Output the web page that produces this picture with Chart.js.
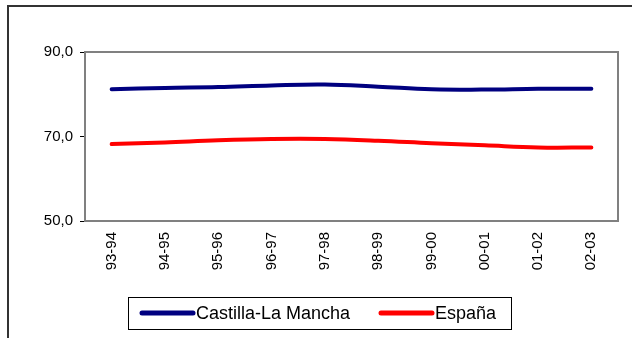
<!DOCTYPE html>
<html>
<head>
<meta charset="utf-8">
<script src="https://cdn.jsdelivr.net/npm/chart.js@4/dist/chart.umd.min.js"></script>
<style>
  html, body { margin: 0; padding: 0; background: #fff; }
  canvas { display: block; }
</style>
</head>
<body>
<canvas id="c" width="632" height="338"></canvas>
<script>
const cursos = ["93-94", "94-95", "95-96", "96-97", "97-98", "98-99", "99-00", "00-01", "01-02", "02-03"];
const castillaLaMancha = [81.2, 81.5, 81.7, 82.1, 82.3, 81.8, 81.2, 81.1, 81.3, 81.3];
const espana = [68.2, 68.6, 69.1, 69.4, 69.4, 69.0, 68.4, 67.9, 67.4, 67.4];
const yTicks = [50, 70, 90];

const FONT = '"Liberation Sans", Arial, sans-serif';

// marco exterior, borde gris del área de trazado y leyenda con recuadro
const extras = {
  id: "extras",
  beforeDatasetsDraw(chart) {
    const { ctx, chartArea: a } = chart;
    ctx.save();
    ctx.strokeStyle = "#808080";
    ctx.lineWidth = 2;
    ctx.strokeRect(a.left, a.top, a.right - a.left, a.bottom - a.top);
    ctx.restore();
  },
  afterDraw(chart) {
    const ctx = chart.ctx;
    ctx.save();
    ctx.strokeStyle = "#333";
    ctx.lineWidth = 2;
    ctx.beginPath();
    ctx.moveTo(8, 338);
    ctx.lineTo(8, 6);
    ctx.lineTo(632, 6);
    ctx.stroke();

    // leyenda
    ctx.strokeStyle = "#000";
    ctx.lineWidth = 1;
    ctx.strokeRect(128.5, 297.5, 383, 32);
    ctx.font = "18px " + FONT;
    ctx.textBaseline = "middle";
    ctx.fillStyle = "#000";
    const items = [[142, 196], [381, 435]];
    chart.data.datasets.forEach((ds, i) => {
      const [lx, tx] = items[i];
      ctx.strokeStyle = ds.borderColor;
      ctx.lineWidth = 5;
      ctx.lineCap = "round";
      ctx.beginPath();
      ctx.moveTo(lx, 313);
      ctx.lineTo(lx + 51, 313);
      ctx.stroke();
      ctx.fillText(ds.label, tx, 314);
    });
    ctx.restore();
  }
};

new Chart(document.getElementById("c"), {
  type: "line",
  data: {
    labels: cursos,
    datasets: [
      {
        label: "Castilla-La Mancha",
        data: castillaLaMancha,
        borderColor: "#000080",
        borderWidth: 4,
        tension: 0.4,
        pointRadius: 0,
        borderCapStyle: "round",
        fill: false
      },
      {
        label: "España",
        data: espana,
        borderColor: "#ff0000",
        borderWidth: 4,
        tension: 0.4,
        pointRadius: 0,
        borderCapStyle: "round",
        fill: false
      }
    ]
  },
  options: {
    responsive: false,
    animation: false,
    layout: { padding: { top: 52, right: 14, left: 0, bottom: 0 } },
    plugins: {
      legend: { display: false },
      tooltip: { enabled: false }
    },
    scales: {
      x: {
        offset: true,
        afterFit: (s) => { s.height = 117; },
        grid: { display: false, drawTicks: false },
        border: { color: "#000", width: 2 },
        ticks: {
          minRotation: 90,
          maxRotation: 90,
          padding: 11,
          color: "#000",
          font: { family: FONT, size: 15 }
        }
      },
      y: {
        min: 50,
        max: 90,
        afterFit: (s) => { s.width = 85; },
        afterBuildTicks: (s) => { s.ticks = yTicks.map((v) => ({ value: v })); },
        grid: { drawOnChartArea: false, color: "#000", tickLength: 5, lineWidth: 1 },
        border: { color: "#000", width: 2 },
        ticks: {
          padding: 7,
          color: "#000",
          font: { family: FONT, size: 15 },
          callback: (v) => v.toFixed(1).replace(".", ",")
        }
      }
    }
  },
  plugins: [extras]
});
</script>
</body>
</html>
